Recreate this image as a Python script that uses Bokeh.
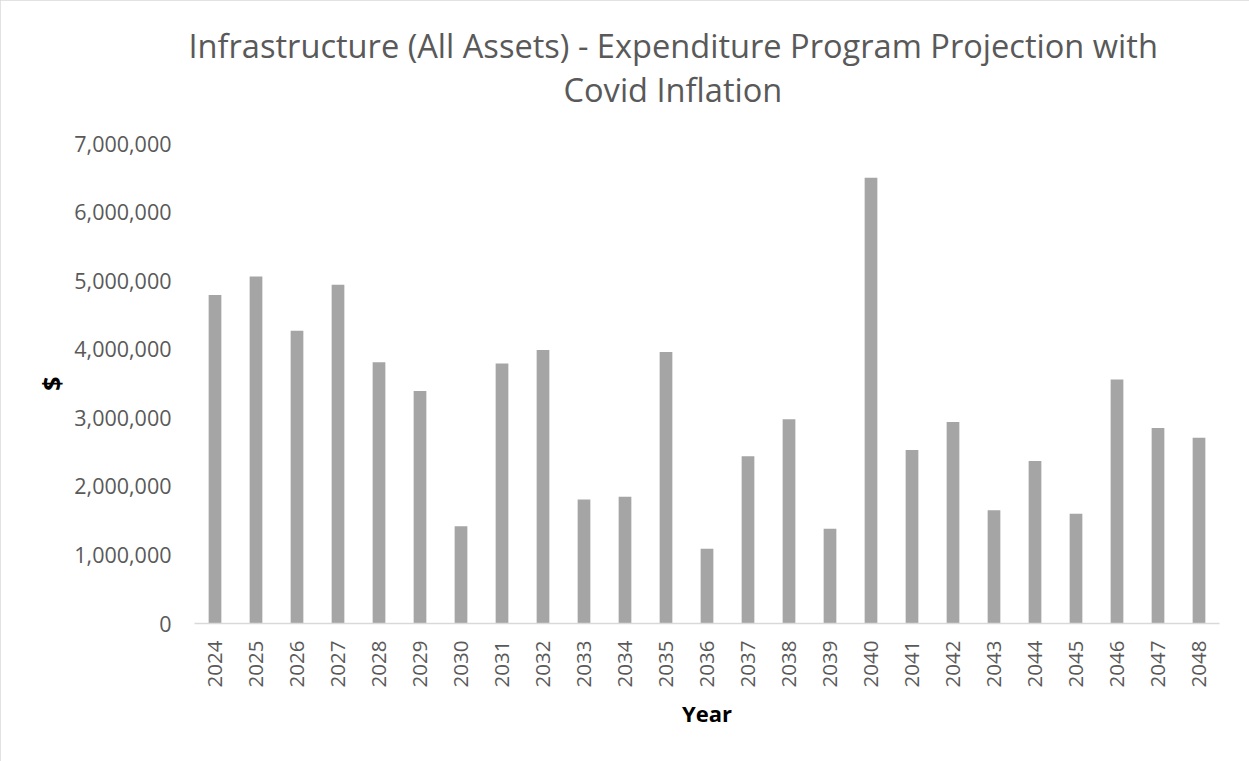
import math
from bokeh.plotting import figure
from bokeh.models import Range1d, NumeralTickFormatter, Title, FixedTicker, InlineStyleSheet
from bokeh.embed import file_html
from bokeh.resources import INLINE

years = ["2024", "2025", "2026", "2027", "2028", "2029", "2030", "2031", "2032",
         "2033", "2034", "2035", "2036", "2037", "2038", "2039", "2040", "2041",
         "2042", "2043", "2044", "2045", "2046", "2047", "2048"]
values = [4790000, 5060000, 4270000, 4940000, 3810000, 3390000, 1420000, 3790000,
          3990000, 1810000, 1850000, 3960000, 1090000, 2440000, 2980000, 1380000,
          6500000, 2530000, 2940000, 1650000, 2370000, 1600000, 3560000, 2850000,
          2710000]
y_ticks = [0, 1000000, 2000000, 3000000, 4000000, 5000000, 6000000, 7000000]

title_line1 = "Infrastructure (All Assets) - Expenditure Program Projection with"
title_line2 = "Covid Inflation"
x_label = "Year"
y_label = "$"

FONT = "Open Sans"
TXT = "#595959"

p = figure(x_range=years, y_range=Range1d(0, 7000000),
           width=1249, height=761, output_backend="svg", toolbar_location=None,
           title_location=None,
           min_border_left=194, min_border_right=30,
           min_border_top=143, min_border_bottom=138)
p.stylesheets.append(InlineStyleSheet(css=":host { outline: 1px solid #D9D9D9; outline-offset: -1px; }"))

p.vbar(x=years, top=values, width=0.31, fill_color="#A5A5A5", line_color=None)

p.xgrid.visible = False
p.ygrid.visible = False
p.outline_line_color = None
p.background_fill_color = "white"
p.border_fill_color = "white"

ya = p.yaxis[0]
ya.ticker = FixedTicker(ticks=y_ticks)
ya.formatter = NumeralTickFormatter(format="0,0")
ya.axis_line_color = None
ya.major_tick_line_color = None
ya.major_tick_out = 0
ya.major_tick_in = 0
ya.minor_tick_line_color = None
ya.major_label_text_font = FONT
ya.major_label_text_font_size = "21.5px"
ya.major_label_text_color = TXT
ya.major_label_standoff = 23
ya.axis_label = y_label
ya.axis_label_text_font = FONT
ya.axis_label_text_font_size = "25px"
ya.axis_label_text_font_style = "bold"
ya.axis_label_text_color = "#000000"
ya.axis_label_standoff = 3

xa = p.xaxis[0]
xa.axis_line_color = "#D9D9D9"
xa.axis_line_width = 1.5
xa.major_tick_line_color = None
xa.major_tick_out = 0
xa.major_tick_in = 0
xa.minor_tick_line_color = None
xa.major_label_orientation = math.pi / 2
xa.major_label_text_font = FONT
xa.major_label_text_font_size = "20.5px"
xa.major_label_text_color = TXT
xa.major_label_standoff = 17
xa.axis_label = x_label
xa.axis_label_text_font = FONT
xa.axis_label_text_font_size = "22px"
xa.axis_label_text_font_style = "bold"
xa.axis_label_text_color = "#000000"
xa.axis_label_standoff = 8

t2 = Title(text=title_line2, align="left", offset=369, standoff=64,
           text_font=FONT, text_font_size="32.6px", text_font_style="normal",
           text_color=TXT)
p.add_layout(t2, "above")
t1 = Title(text=title_line1, align="left", offset=-6, standoff=-70,
           text_font=FONT, text_font_size="32.6px", text_font_style="normal",
           text_color=TXT)
p.add_layout(t1, "above")

open("out.html", "w").write(file_html(p, INLINE))
